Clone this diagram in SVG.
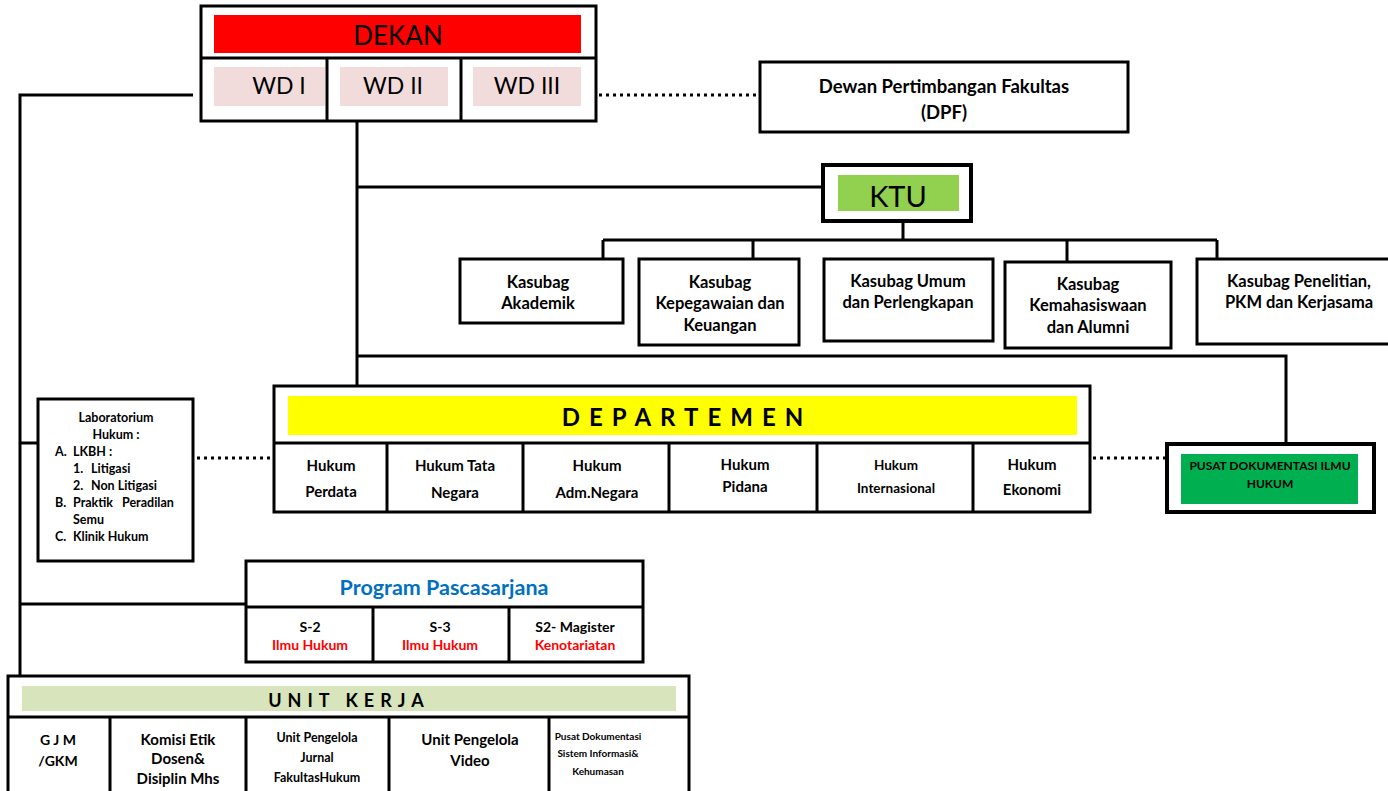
<svg xmlns="http://www.w3.org/2000/svg" width="1388" height="791" viewBox="0 0 1388 791">
<style>
.b{fill:#fff;stroke:#000;stroke-width:3}
.c{fill:none;stroke:#000;stroke-width:3}
.d{fill:none;stroke:#000;stroke-width:3;stroke-dasharray:3 4}
text{font-family:Lato,"Liberation Sans",sans-serif;text-anchor:middle;fill:#000}
.t{font-weight:bold;font-size:14px}
.k{font-weight:bold;font-size:16.5px}
.h{font-weight:bold;font-size:15px}
.s{font-weight:bold;font-size:11px}
.l{font-weight:bold;font-size:12.5px}
.n{font-size:26px}
.w{font-size:23px}
.st{text-anchor:start}
</style>
<rect width="1388" height="791" fill="#fff"/>
<g id="connectors">
<polyline class="c" points="193,95 20,95 20,676"/>
<line class="c" x1="20" y1="443" x2="38" y2="443"/>
<line class="c" x1="20" y1="604" x2="246" y2="604"/>
<line class="c" x1="357" y1="121" x2="357" y2="386"/>
<line class="c" x1="357" y1="187" x2="823" y2="187"/>
<polyline class="c" points="357,356 1286,356 1286,444"/>
<line class="c" x1="903" y1="221" x2="903" y2="240"/>
<line class="c" x1="603" y1="240" x2="1217" y2="240"/>
<line class="c" x1="603" y1="240" x2="603" y2="259"/>
<line class="c" x1="753" y1="240" x2="753" y2="259"/>
<line class="c" x1="1067" y1="240" x2="1067" y2="262"/>
<line class="c" x1="1217" y1="240" x2="1217" y2="259"/>
<line class="d" x1="599" y1="95" x2="756" y2="95"/>
<line class="d" x1="197" y1="458" x2="273" y2="458"/>
<line class="d" x1="1093" y1="458" x2="1166" y2="458"/>
</g>
<g id="dekan">
<rect class="b" x="201" y="6" width="395" height="115"/>
<line class="c" x1="201" y1="58" x2="596" y2="58"/>
<line class="c" x1="327" y1="58" x2="327" y2="121"/>
<line class="c" x1="461" y1="58" x2="461" y2="121"/>
<rect x="214" y="15" width="367" height="38" fill="#ff0000"/>
<text class="n" x="398" y="45">DEKAN</text>
<rect x="214" y="67" width="111" height="39" fill="#f2dcdb"/>
<rect x="340" y="67" width="108" height="39" fill="#f2dcdb"/>
<rect x="473" y="67" width="108" height="39" fill="#f2dcdb"/>
<text class="w" x="279" y="94">WD I</text>
<text class="w" x="393" y="94">WD II</text>
<text class="w" x="527" y="94">WD III</text>
</g>
<g id="dpf">
<rect class="b" x="760" y="62" width="368" height="70"/>
<text x="944" y="93" style="font-weight:bold;font-size:18.5px">Dewan Pertimbangan Fakultas</text>
<text x="944" y="119" style="font-weight:bold;font-size:18.5px">(DPF)</text>
</g>
<g id="ktu">
<rect class="b" x="823" y="165" width="148" height="56" style="stroke-width:4"/>
<rect x="838" y="175" width="121" height="36" fill="#92d050"/>
<text x="898" y="207" style="font-size:29px">KTU</text>
</g>
<g id="kasubag-akademik">
<rect class="b" x="460" y="259" width="163" height="64"/>
<text class="k" x="538" y="288">Kasubag</text>
<text class="k" x="538" y="309">Akademik</text>
</g>
<g id="kasubag-kepegawaian">
<rect class="b" x="639" y="259" width="160" height="86"/>
<text class="k" x="720" y="288">Kasubag</text>
<text class="k" x="720" y="309">Kepegawaian dan</text>
<text class="k" x="720" y="331">Keuangan</text>
</g>
<g id="kasubag-umum">
<rect class="b" x="824" y="259" width="169" height="82"/>
<text class="k" x="908" y="287">Kasubag Umum</text>
<text class="k" x="908" y="308">dan Perlengkapan</text>
</g>
<g id="kasubag-kemahasiswaan">
<rect class="b" x="1005" y="262" width="166" height="86"/>
<text class="k" x="1088" y="290">Kasubag</text>
<text class="k" x="1088" y="311">Kemahasiswaan</text>
<text class="k" x="1088" y="333">dan Alumni</text>
</g>
<g id="kasubag-penelitian">
<rect class="b" x="1197" y="259" width="200" height="85"/>
<text class="k" x="1299" y="287">Kasubag Penelitian,</text>
<text class="k" x="1299" y="308">PKM dan Kerjasama</text>
</g>
<g id="laboratorium">
<rect class="b" x="38" y="399" width="155" height="162"/>
<text class="l" x="116" y="422">Laboratorium</text>
<text class="l" x="116" y="439">Hukum :</text>
<text class="l st" x="55" y="456">A.</text>
<text class="l st" x="73" y="456">LKBH :</text>
<text class="l st" x="73" y="473">1.</text>
<text class="l st" x="91" y="473">Litigasi</text>
<text class="l st" x="73" y="490">2.</text>
<text class="l st" x="91" y="490">Non Litigasi</text>
<text class="l st" x="55" y="507">B.</text>
<text class="l st" x="73" y="507">Praktik</text>
<text class="l st" x="122" y="507">Peradilan</text>
<text class="l st" x="73" y="524">Semu</text>
<text class="l st" x="55" y="541">C.</text>
<text class="l st" x="73" y="541">Klinik Hukum</text>
</g>
<g id="departemen">
<rect class="b" x="274" y="386" width="816" height="126"/>
<rect x="288" y="396" width="789" height="39" fill="#ffff00"/>
<text x="687" y="426" style="font-weight:bold;font-size:24px;letter-spacing:9px">DEPARTEMEN</text>
<line class="c" x1="274" y1="443" x2="1090" y2="443"/>
<line class="c" x1="387" y1="443" x2="387" y2="512"/>
<line class="c" x1="523" y1="443" x2="523" y2="512"/>
<line class="c" x1="669" y1="443" x2="669" y2="512"/>
<line class="c" x1="817" y1="443" x2="817" y2="512"/>
<line class="c" x1="973" y1="443" x2="973" y2="512"/>
<text class="h" x="331" y="471">Hukum</text>
<text class="h" x="331" y="497">Perdata</text>
<text class="h" x="455" y="471">Hukum Tata</text>
<text class="h" x="455" y="498">Negara</text>
<text class="h" x="597" y="471">Hukum</text>
<text class="h" x="597" y="498">Adm.Negara</text>
<text class="h" x="745" y="470">Hukum</text>
<text class="h" x="745" y="492">Pidana</text>
<text class="t" x="896" y="470" style="font-size:13.5px">Hukum</text>
<text class="t" x="896" y="493" style="font-size:13.5px">Internasional</text>
<text class="h" x="1032" y="470">Hukum</text>
<text class="h" x="1032" y="495">Ekonomi</text>
</g>
<g id="pusat-dokumentasi-ilmu-hukum">
<rect class="b" x="1167" y="444" width="207" height="68" style="stroke-width:4"/>
<rect x="1181" y="454" width="177" height="50" fill="#00b050"/>
<text class="l" x="1270" y="470" style="font-size:12px">PUSAT DOKUMENTASI ILMU</text>
<text class="l" x="1270" y="488" style="font-size:12px">HUKUM</text>
</g>
<g id="pascasarjana">
<rect class="b" x="246" y="561" width="397" height="101"/>
<line class="c" x1="246" y1="607" x2="643" y2="607"/>
<line class="c" x1="373" y1="607" x2="373" y2="662"/>
<line class="c" x1="509" y1="607" x2="509" y2="662"/>
<text x="444" y="595" style="font-weight:bold;font-size:21.5px;fill:#0070c0">Program Pascasarjana</text>
<text class="t" x="310" y="632">S-2</text>
<text class="t" x="310" y="650" style="fill:#ff0000">Ilmu Hukum</text>
<text class="t" x="440" y="632">S-3</text>
<text class="t" x="440" y="650" style="fill:#ff0000">Ilmu Hukum</text>
<text class="t" x="575" y="632">S2- Magister</text>
<text class="t" x="575" y="650" style="fill:#ff0000">Kenotariatan</text>
</g>
<g id="unit-kerja">
<rect class="b" x="8" y="676" width="681" height="125"/>
<rect x="22" y="686" width="654" height="25" fill="#d8e4bc"/>
<text x="349" y="707" style="font-weight:bold;font-size:18px;letter-spacing:6px">UNIT KERJA</text>
<line class="c" x1="8" y1="717" x2="689" y2="717"/>
<line class="c" x1="110" y1="717" x2="110" y2="791"/>
<line class="c" x1="246" y1="717" x2="246" y2="791"/>
<line class="c" x1="389" y1="717" x2="389" y2="791"/>
<line class="c" x1="549" y1="717" x2="549" y2="791"/>
<text class="t" x="58" y="745">G J M</text>
<text class="t" x="58" y="766">/GKM</text>
<text class="h" x="178" y="745">Komisi Etik</text>
<text class="h" x="178" y="764">Dosen&amp;</text>
<text class="h" x="178" y="784">Disiplin Mhs</text>
<text class="l" x="317" y="742">Unit Pengelola</text>
<text class="l" x="317" y="762">Jurnal</text>
<text class="l" x="317" y="782">FakultasHukum</text>
<text class="h" x="470" y="745">Unit Pengelola</text>
<text class="h" x="470" y="766">Video</text>
<text class="s" x="598" y="740" style="font-size:10px">Pusat Dokumentasi</text>
<text class="s" x="598" y="757" style="font-size:10px">Sistem Informasi&amp;</text>
<text class="s" x="598" y="775" style="font-size:10px">Kehumasan</text>
</g>
</svg>
